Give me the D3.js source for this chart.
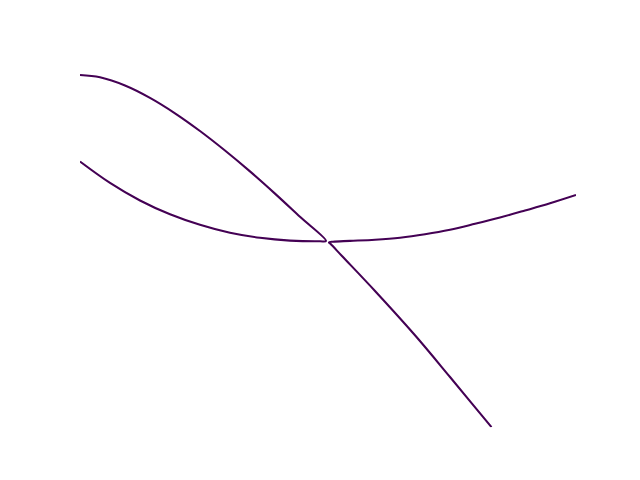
<!DOCTYPE html>
<html>
<head>
<meta charset="utf-8">
<script src="https://cdn.jsdelivr.net/npm/d3@7"></script>
<style>
  html, body { margin: 0; padding: 0; background: #ffffff; }
  svg { display: block; }
</style>
</head>
<body>
<svg id="chart" width="640" height="480"></svg>
<script>
// Contour level lines (data coordinates)
// Line 1: upper-left branch down to the saddle, then back out along the lower-left branch
const line1X = [0.000, 0.403, 0.907, 1.411, 1.915, 2.419, 2.923, 3.427, 3.931, 4.435, 4.960,
                4.839, 4.234, 3.629, 3.024, 2.419, 1.815, 1.210, 0.605, 0.000];
const line1Y = [9.529, 9.467, 9.245, 8.910, 8.493, 8.014, 7.486, 6.921, 6.320, 5.693, 5.038,
                5.030, 5.049, 5.124, 5.260, 5.476, 5.760, 6.134, 6.610, 7.189];
// Line 2: right branch in to the saddle, then down along the lower-right branch
const line2X = [10.000, 9.476, 8.972, 8.468, 7.964, 7.460, 6.956, 6.452, 5.948, 5.444, 5.101, 5.020,
                5.050, 5.282, 5.948, 6.754, 7.460, 8.296];
const line2Y = [6.282, 6.058, 5.863, 5.674, 5.502, 5.340, 5.219, 5.127, 5.073, 5.041, 5.019, 5.000,
                4.962, 4.632, 3.685, 2.487, 1.358, 0.000];

const xDomain = [0, 10];
const yDomain = [0, 10];
const lineColor = "#440154";

const W = 640, H = 480;
const margin = { left: 80, right: 64, top: 57.6, bottom: 52.8 };

const svg = d3.select("#chart");
const x = d3.scaleLinear().domain(xDomain).range([margin.left, W - margin.right]);
const y = d3.scaleLinear().domain(yDomain).range([H - margin.bottom, margin.top]);

const lines = [
  d3.zip(line1X, line1Y),
  d3.zip(line2X, line2Y)
];

const gen = d3.line()
  .x(d => x(d[0]))
  .y(d => y(d[1]))
  .curve(d3.curveCatmullRom.alpha(0.5));

svg.append("defs").append("clipPath").attr("id", "clip")
  .append("rect")
  .attr("x", margin.left).attr("y", margin.top)
  .attr("width", W - margin.left - margin.right)
  .attr("height", H - margin.top - margin.bottom);

svg.append("g")
  .attr("clip-path", "url(#clip)")
  .selectAll("path")
  .data(lines)
  .join("path")
  .attr("d", gen)
  .attr("fill", "none")
  .attr("stroke", lineColor)
  .attr("stroke-width", 2.08)
  .attr("stroke-linejoin", "round");
</script>
</body>
</html>
